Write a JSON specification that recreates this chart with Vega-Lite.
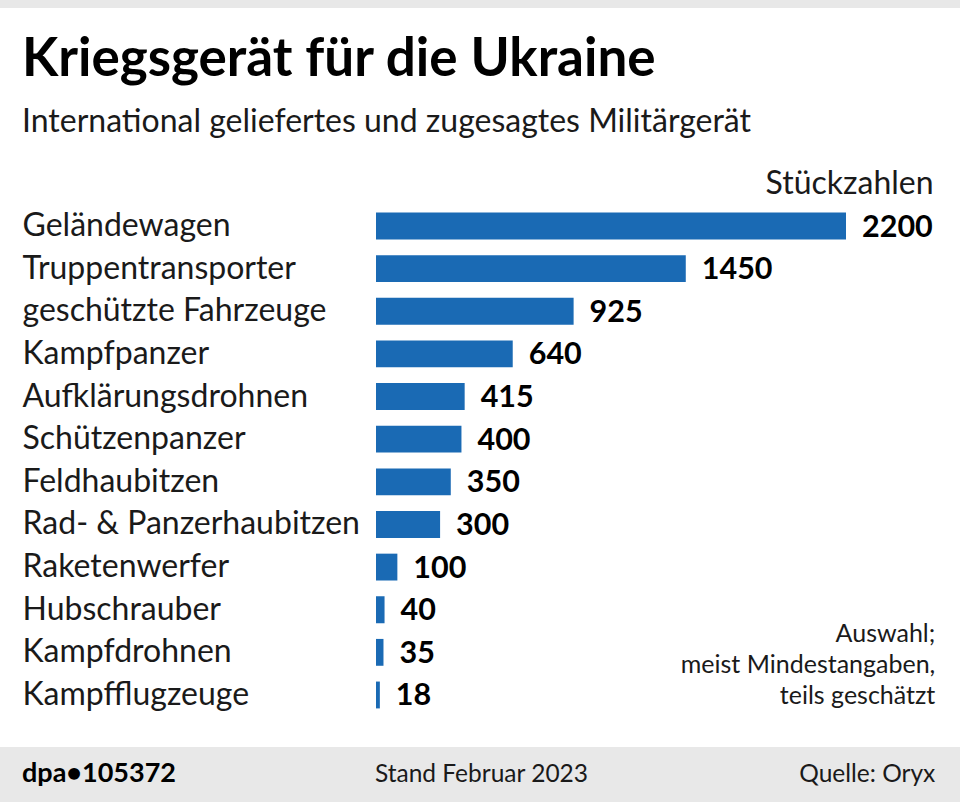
{
  "$schema": "https://vega.github.io/schema/vega-lite/v6.json",
  "width": 960,
  "height": 739,
  "autosize": {"type": "none"},
  "padding": {"top": 8, "left": 0, "right": 0, "bottom": 55},
  "background": "#e8e8e8",
  "config": {"view": {"fill": "white", "stroke": null}, "font": "Lato"},
  "title": {
    "text": "Kriegsgerät für die Ukraine",
    "subtitle": "International geliefertes und zugesagtes Militärgerät",
    "orient": "top",
    "anchor": "start",
    "frame": "group",
    "offset": 0,
    "dx": 22,
    "dy": 130,
    "font": "Lato",
    "fontSize": 53,
    "fontWeight": "bold",
    "color": "#000000",
    "subtitleFont": "Lato",
    "subtitleFontSize": 32,
    "subtitleColor": "#1a1a1a",
    "subtitlePadding": 20
  },
  "data": {
    "values": [
      {"category": "Geländewagen", "value": 2200},
      {"category": "Truppentransporter", "value": 1450},
      {"category": "geschützte Fahrzeuge", "value": 925},
      {"category": "Kampfpanzer", "value": 640},
      {"category": "Aufklärungsdrohnen", "value": 415},
      {"category": "Schützenpanzer", "value": 400},
      {"category": "Feldhaubitzen", "value": 350},
      {"category": "Rad- & Panzerhaubitzen", "value": 300},
      {"category": "Raketenwerfer", "value": 100},
      {"category": "Hubschrauber", "value": 40},
      {"category": "Kampfdrohnen", "value": 35},
      {"category": "Kampfflugzeuge", "value": 18}
    ]
  },
  "layer": [
    {
      "mark": {"type": "bar", "color": "#1a6ab4"},
      "encoding": {
        "y": {
          "field": "category",
          "type": "nominal",
          "sort": null,
          "scale": {"range": [196.7, 708.3], "paddingInner": 0.37, "paddingOuter": 0.185},
          "axis": {
            "orient": "left",
            "title": null,
            "domain": false,
            "ticks": false,
            "tickSize": 0,
            "grid": false,
            "labelAlign": "left",
            "labelPadding": -22,
            "labelBaseline": "alphabetic",
            "labelOffset": 10,
            "labelFont": "Lato",
            "labelFontSize": 32,
            "labelColor": "#1a1a1a",
            "labelLimit": 0
          }
        },
        "x": {
          "field": "value",
          "type": "quantitative",
          "scale": {"domain": [-1760, 2733.6], "nice": false, "zero": false},
          "axis": null
        }
      }
    },
    {
      "mark": {"type": "text", "align": "left", "baseline": "alphabetic", "dx": 16, "dy": 10.5, "fontSize": 30.5, "fontWeight": "bold", "color": "#000000"},
      "encoding": {
        "y": {"field": "category", "type": "nominal", "sort": null},
        "x": {"field": "value", "type": "quantitative"},
        "text": {"field": "value", "type": "quantitative", "format": "d"}
      }
    },
    {
      "data": {"values": [{"t": "Stückzahlen"}]},
      "mark": {"type": "text", "align": "right", "baseline": "alphabetic", "dy": -32, "fontSize": 32, "color": "#1a1a1a"},
      "encoding": {
        "x": {"datum": 2610},
        "y": {"datum": "Geländewagen"},
        "text": {"field": "t"}
      }
    },
    {
      "data": {"values": [{"t": "Auswahl;"}]},
      "mark": {"type": "text", "align": "right", "baseline": "alphabetic", "dy": -10, "fontSize": 25, "lineHeight": 31, "color": "#1a1a1a"},
      "encoding": {
        "x": {"datum": 2618},
        "y": {"datum": "Kampfdrohnen"},
        "text": {"value": ["Auswahl;", "meist Mindestangaben,", "teils geschätzt"]}
      }
    },
    {
      "data": {"values": [{"t": "dpa•105372"}]},
      "mark": {"type": "text", "align": "left", "baseline": "alphabetic", "dy": 87, "fontSize": 27, "fontWeight": "bold", "color": "#000000"},
      "encoding": {
        "x": {"datum": -1657},
        "y": {"datum": "Kampfflugzeuge"},
        "text": {"field": "t"}
      }
    },
    {
      "data": {"values": [{"t": "Stand Februar 2023"}]},
      "mark": {"type": "text", "align": "left", "baseline": "alphabetic", "dy": 87, "fontSize": 24.5, "color": "#1a1a1a"},
      "encoding": {
        "x": {"datum": -5},
        "y": {"datum": "Kampfflugzeuge"},
        "text": {"field": "t"}
      }
    },
    {
      "data": {"values": [{"t": "Quelle: Oryx"}]},
      "mark": {"type": "text", "align": "right", "baseline": "alphabetic", "dy": 87, "fontSize": 24.5, "color": "#1a1a1a"},
      "encoding": {
        "x": {"datum": 2618},
        "y": {"datum": "Kampfflugzeuge"},
        "text": {"field": "t"}
      }
    }
  ]
}
